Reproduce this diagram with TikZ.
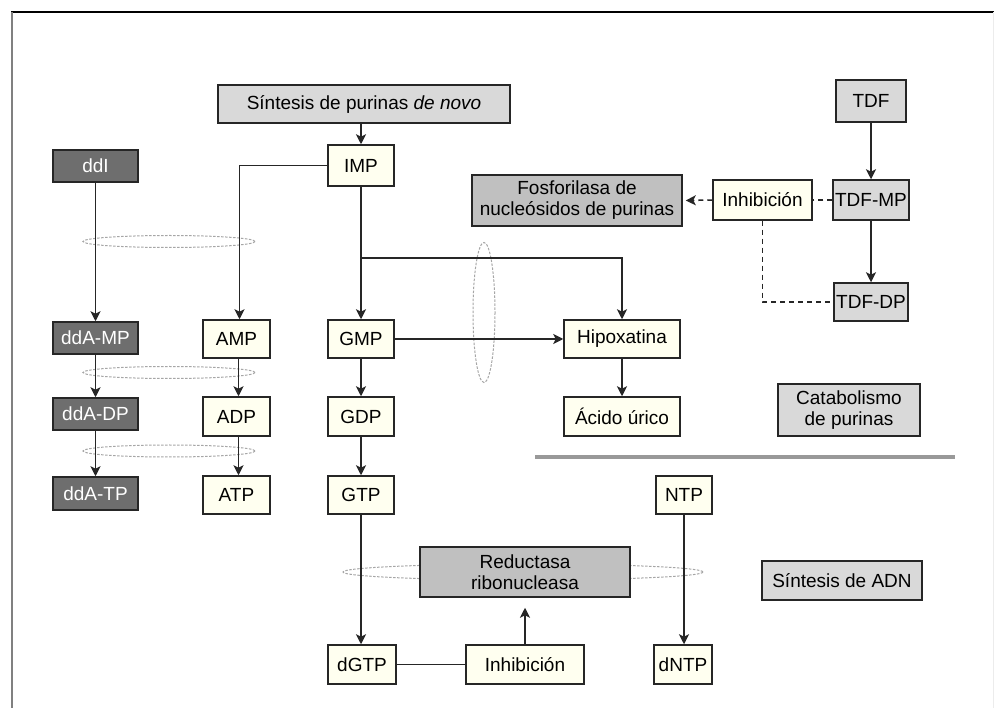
\documentclass[tikz,border=0pt]{standalone}
\usepackage{fontspec}
\setmainfont{Liberation Sans}
\usetikzlibrary{arrows.meta}
\definecolor{cream}{HTML}{FFFFF0}
\definecolor{lgray}{HTML}{D9D9D9}
\definecolor{mgray}{HTML}{C0C0C0}
\definecolor{dgray}{HTML}{6E6E6E}
\tikzset{
 base/.style={draw=black!85, line width=1.5pt, inner sep=2pt, font=\fontsize{19}{21}\selectfont, align=center},
 cr/.style={base, fill=cream},
 lg/.style={base, fill=lgray},
 mg/.style={base, fill=mgray},
 dk/.style={base, fill=dgray, text=white},
 sz/.style 2 args={minimum width=#1pt, minimum height=#2pt},
 tip/.style={-{Stealth[length=10pt,width=10pt,inset=2.5pt]}},
 arr/.style={line width=1.5pt, black!85, tip},
 ln/.style={line width=1.5pt, black!85},
 dsh/.style={line width=1.5pt, black!85, dash pattern=on 5pt off 4pt},
 ell/.style={gray!70, line width=1pt, dash pattern=on 2.5pt off 1.5pt},
}
\begin{document}
\begin{tikzpicture}[x=1pt,y=-1pt]
\useasboundingbox (0,0) rectangle (994,708);
\fill[white] (0,0) rectangle (994,708);
% frame
\draw[line width=1.5pt, black] (11,12) -- (994,12);
\draw[line width=2pt, gray] (12,12) -- (12,708);
\draw[line width=1pt, gray!15] (993,12) -- (993,708);
% ellipses (behind)
\draw[ell] (169,241.5) ellipse [x radius=86, y radius=6];
\draw[ell] (169,372.5) ellipse [x radius=86, y radius=6];
\draw[ell] (169,451) ellipse [x radius=86, y radius=6];
\draw[ell] (484,312.5) ellipse [x radius=11, y radius=70];
\draw[ell] (523,572) ellipse [x radius=180, y radius=8];
% separator
\draw[line width=4.5pt, gray!80] (535,457) -- (955,457);
% nodes
\node[lg, sz={292}{38}] (syn) at (364,104) {Síntesis de purinas \textit{de novo}};
\node[cr, sz={66}{41}] (imp) at (361,165.5) {IMP};
\node[dk, sz={85}{32}] (ddi) at (95.5,166) {ddI};
\node[mg, sz={210}{51}] (fos) at (577,200.5) {Fosforilasa de\\nucleósidos de purinas};
\node[cr, sz={99}{40}] (inh1) at (762.5,200) {Inhibición};
\node[lg, sz={70}{42}] (tdf) at (871,101) {TDF};
\node[lg, sz={70}{40}] (tdfmp) at (871,200) {TDF-MP};
\node[lg, sz={70}{38}] (tdfdp) at (871,302) {TDF-DP};
\node[dk, sz={85}{32}] (ddamp) at (95.5,338) {ddA-MP};
\node[cr, sz={67}{38}] (amp) at (236.5,339) {AMP};
\node[cr, sz={66}{38}] (gmp) at (361,339) {GMP};
\node[cr, sz={116}{38}] (hip) at (622,339) {Hipoxatina};
\node[dk, sz={85}{32}] (ddadp) at (95.5,414) {ddA-DP};
\node[cr, sz={67}{39}] (adp) at (236.5,416.5) {ADP};
\node[cr, sz={66}{39}] (gdp) at (361,416.5) {GDP};
\node[cr, sz={116}{39}] (acido) at (622,416.5) {Ácido úrico};
\node[lg, sz={142}{52}] (cat) at (849,410) {Catabolismo\\de purinas};
\node[dk, sz={85}{33}] (ddatp) at (95.5,493.5) {ddA-TP};
\node[cr, sz={67}{38}] (atp) at (236.5,495) {ATP};
\node[cr, sz={66}{38}] (gtp) at (361,495) {GTP};
\node[cr, sz={56}{38}] (ntp) at (684,495) {NTP};
\node[mg, sz={210}{50}] (red) at (525,572) {Reductasa\\ribonucleasa};
\node[lg, sz={160}{39}] (sadn) at (842,580.5) {Síntesis de ADN};
\node[cr, sz={68}{39}] (dgtp) at (362,664.5) {dGTP};
\node[cr, sz={118}{39}] (inh2) at (525,664.5) {Inhibición};
\node[cr, sz={58}{39}] (dntp) at (683,664.5) {dNTP};
% connectors
\draw[arr] (syn.south -| imp) -- (imp);
\draw[arr] (imp.west) -| ([xshift=3pt]amp.north);
\draw[arr] (imp) -- (gmp);
\coordinate (br) at (361,258);
\draw[arr] (br) -| (hip.north);
\draw[arr] (ddi) -- (ddamp);
\draw[arr] (ddamp) -- (ddadp);
\draw[arr] (ddadp) -- (ddatp);
\draw[arr] ([xshift=2pt]amp.south) -- ([xshift=2pt]adp.north);
\draw[arr] ([xshift=2pt]adp.south) -- ([xshift=2pt]atp.north);
\draw[arr] (gmp) -- (gdp);
\draw[arr] (gdp) -- (gtp);
\draw[arr] (gmp) -- (hip);
\draw[arr] (hip) -- (acido);
\draw[arr] (tdf) -- (tdfmp);
\draw[arr] (tdfmp) -- (tdfdp);
\draw[dsh] (tdfmp.west) -- (inh1.east);
\draw[dsh, tip] (inh1.west) -- ([xshift=3pt]fos.east);
\draw[dsh] (inh1.south) |- (tdfdp.west);
\draw[arr] (gtp.south) -- (gtp.south |- dgtp.north);
\draw[arr] (ntp.south) -- (ntp.south |- dntp.north);
\draw[ln] (dgtp) -- (inh2);
\draw[arr, shorten >=10pt] (inh2) -- (red);
\end{tikzpicture}
\end{document}
